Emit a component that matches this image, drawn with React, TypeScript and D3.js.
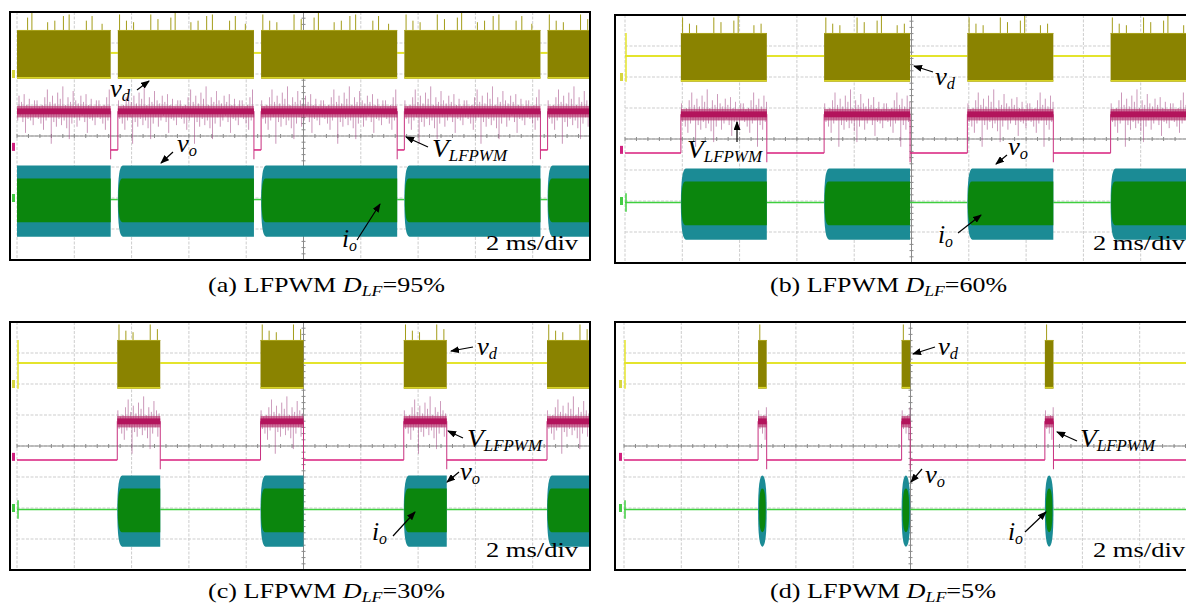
import React from "react";
import * as d3 from "d3";

// 2 ms/div, 10 horizontal divisions; 8 vertical divisions
const panelIds = ["a", "b", "c", "d"];
const dutyLabels = ["95%", "60%", "30%", "5%"];
const onTimeMs = [4.75, 3.0, 1.5, 0.3];
const burstStartMs = [
  [-1.48, 3.52, 8.52, 13.52, 18.52],
  [1.95, 6.95, 11.95, 16.95],
  [3.5, 8.5, 13.5, 18.5],
  [4.68, 9.69, 14.69],
];

// trace levels, in divisions from screen centre
const vdBand = [1.85, 3.42];
const vdOff = 2.68;
const vLfOn = 0.8;
const vLfOff = -0.45;
const voBand = [-3.25, -0.95];
const ioBand = [-2.78, -1.37];
const ioCentre = -2.05;

// spikes on top of v_d while switching (ms from burst start, height in div)
const vdSpikeMs = [0.06, 0.3, 0.55, 1.15, 1.4, 1.85, 2.0, 2.55, 2.8, 3.1, 3.3, 3.9, 4.1, 4.45];
const vdSpikeDiv = [0.5, 0.3, 0.25, 0.5, 0.35, 0.4, 0.55, 0.25, 0.3, 0.45, 0.5, 0.3, 0.45, 0.2];

// ripple on V_LFPWM while on (div), one sample every 0.045 ms
const vLfRipple = [
  0.35, -0.25, 0.15, -0.4, 0.2, -0.6, 0.45, -0.3, 0.7, -0.2, 0.3, -1.05, 0.5, -0.35, 0.25, -0.5,
  0.6, -0.25, 0.4, -0.45, 0.8, -0.3, 0.2, -0.55, 0.45, -0.9, 0.3, -0.4, 0.65, -0.2, 0.35, -0.5,
  0.25, -0.3, 0.5, -0.15, 0.3, -0.35, 0.55, -0.7, 0.2, -0.25, 0.4, -0.3, 0.15, -0.45, 0.35, -0.2,
];

const SERIF = '"Liberation Serif", "Times New Roman", Times, Tinos, serif';
const BOX_W = 580;
const BOX_H = 248;
const SCREEN_W = 573;

const panelOrigin = [[10, 12], [615, 15], [10, 322], [615, 322]];
const screenOffset = [7, 10, 7, 9];
const captionPos = [[208, 292], [770, 292], [208, 598], [770, 598]];
const captionWidth = [237, 237, 237, 226];

// label, text position, arrow (tail -> head), in panel coordinates
const annotations = [
  [
    { m: "v", s: "d", x: 100, y: 85, a: [127, 78, 139, 69] },
    { m: "v", s: "o", x: 167, y: 140, a: [163, 140, 151, 151] },
    { m: "V", s: "LFPWM", x: 422, y: 145, a: [418, 135, 396, 125] },
    { m: "i", s: "o", x: 332, y: 235, a: [347, 228, 370, 192] },
  ],
  [
    { m: "V", s: "LFPWM", x: 72, y: 143, a: [122, 127, 122, 107] },
    { m: "v", s: "d", x: 320, y: 70, a: [318, 57, 299, 51] },
    { m: "v", s: "o", x: 393, y: 140, a: [392, 140, 381, 149] },
    { m: "i", s: "o", x: 323, y: 228, a: [343, 218, 366, 200] },
  ],
  [
    { m: "v", s: "d", x: 467, y: 33, a: [463, 25, 441, 29] },
    { m: "V", s: "LFPWM", x: 457, y: 125, a: [453, 116, 438, 109] },
    { m: "v", s: "o", x: 450, y: 158, a: [449, 150, 437, 160] },
    { m: "i", s: "o", x: 362, y: 218, a: [383, 214, 405, 190] },
  ],
  [
    { m: "v", s: "d", x: 323, y: 33, a: [320, 25, 298, 32] },
    { m: "V", s: "LFPWM", x: 465, y: 125, a: [462, 119, 442, 110] },
    { m: "v", s: "o", x: 310, y: 161, a: [307, 147, 296, 160] },
    { m: "i", s: "o", x: 393, y: 218, a: [410, 210, 431, 190] },
  ],
];
const labelWidth = { LFPWM: 75, d: 20, o: 20 };
const divLabelX = [476, 478, 476, 478];
const divLabelY = [238, 235, 235, 235];

function burstPath(x0, x1, top, bot, r, lens) {
  const mid = (top + bot) / 2;
  const p = d3.path();
  if (lens) {
    const xm = (x0 + x1) / 2;
    p.moveTo(x0, mid);
    p.quadraticCurveTo(x0, top, xm, top);
    p.quadraticCurveTo(x1, top, x1, mid);
    p.quadraticCurveTo(x1, bot, xm, bot);
    p.quadraticCurveTo(x0, bot, x0, mid);
  } else {
    p.moveTo(x1, top);
    p.lineTo(x0 + r, top);
    p.quadraticCurveTo(x0, top, x0, mid);
    p.quadraticCurveTo(x0, bot, x0 + r, bot);
    p.lineTo(x1, bot);
  }
  p.closePath();
  return p.toString();
}

const Panel = ({ k }) => {
  const [ox, oy] = panelOrigin[k];
  const sl = screenOffset[k];
  const x = d3.scaleLinear().domain([0, 20]).range([sl, sl + SCREEN_W]);
  const y = d3.scaleLinear().domain([-4, 4]).range([BOX_H, 0]);
  const on = onTimeMs[k];
  const bursts = burstStartMs[k].map((s) => [s, s + on]);
  const lens = on < 1;

  // off intervals between bursts
  const offs = [];
  let cur = 0;
  bursts.forEach(([b0, b1]) => {
    if (b0 > cur) offs.push([cur, Math.min(b0, 20)]);
    cur = Math.max(cur, b1);
  });
  if (cur < 20) offs.push([cur, 20]);
  const startsOff = offs.length && offs[0][0] === 0;

  const clipId = `scr-${panelIds[k]}`;
  const vTicks = d3.range(0, 10.01, 0.2);
  const hTicks = d3.range(-4, 4.01, 0.2);

  return (
    <g transform={`translate(${ox},${oy})`}>
      <defs>
        <clipPath id={clipId}>
          <rect x={sl} y={0} width={SCREEN_W} height={BOX_H} />
        </clipPath>
      </defs>
      {/* grid */}
      <g stroke="#cdcdcd" strokeWidth={1}>
        {d3.range(0, 11).map((i) => (
          <line key={"v" + i} x1={x(i * 2)} x2={x(i * 2)} y1={0} y2={BOX_H} strokeDasharray="3,1.5" />
        ))}
        {d3.range(-4, 5).map((j) => (
          <line key={"h" + j} x1={sl} x2={sl + SCREEN_W} y1={y(j)} y2={y(j)} strokeDasharray="3,1.5" />
        ))}
      </g>
      <g stroke="#8a8a8a" strokeWidth={1}>
        <line x1={sl} x2={sl + SCREEN_W} y1={y(0)} y2={y(0)} />
        <line x1={x(10)} x2={x(10)} y1={0} y2={BOX_H} />
        {vTicks.map((t) => (
          <line key={"tx" + t} x1={x(t * 2)} x2={x(t * 2)} y1={y(0) - 2} y2={y(0) + 2} />
        ))}
        {hTicks.map((t) => (
          <line key={"ty" + t} x1={x(10) - 2} x2={x(10) + 2} y1={y(t)} y2={y(t)} />
        ))}
      </g>
      {/* channel markers */}
      <rect x={sl - 5} y={y(2.0) - 4} width={3} height={8} fill="#d6d640" />
      <rect x={sl - 5} y={y(-0.35) - 4} width={3} height={8} fill="#d0207e" />
      <rect x={sl - 5} y={y(-2.0) - 4} width={3} height={8} fill="#44cc44" />

      <g clipPath={`url(#${clipId})`}>
        {/* v_d */}
        {offs.map(([o0, o1], i) => (
          <line key={"yo" + i} x1={x(o0)} x2={x(o1)} y1={y(vdOff)} y2={y(vdOff)} stroke="#e4e42c" strokeWidth={2} />
        ))}
        {startsOff && (
          <line x1={x(0) + 1} x2={x(0) + 1} y1={y(vdBand[0])} y2={y(vdBand[1])} stroke="#e4e42c" strokeWidth={1.5} />
        )}
        {bursts.map(([b0, b1], i) => (
          <g key={"yb" + i}>
            <rect x={x(b0)} y={y(vdBand[1])} width={x(b1) - x(b0)} height={y(vdBand[0]) - y(vdBand[1])} fill="#8a8300" />
            <line x1={x(b0)} x2={x(b1)} y1={y(vdBand[1]) + 0.5} y2={y(vdBand[1]) + 0.5} stroke="#a9a21c" strokeWidth={1} />
            <line x1={x(b0)} x2={x(b1)} y1={y(vdBand[0]) - 1} y2={y(vdBand[0]) - 1} stroke="#d9d424" strokeWidth={1.5} />
            {vdSpikeMs.map((t, j) =>
              t < on ? (
                <line key={j} x1={x(b0 + t)} x2={x(b0 + t)} y1={y(vdBand[1])} y2={y(vdBand[1] + vdSpikeDiv[j])} stroke="#a39c18" strokeWidth={1} />
              ) : null
            )}
          </g>
        ))}

        {/* V_LFPWM */}
        {offs.map(([o0, o1], i) => (
          <line key={"mo" + i} x1={x(o0)} x2={x(o1)} y1={y(vLfOff)} y2={y(vLfOff)} stroke="#d81e7c" strokeWidth={1.5} />
        ))}
        {bursts.map(([b0, b1], i) => (
          <g key={"mb" + i}>
            <line x1={x(b0)} x2={x(b0)} y1={y(vLfOff)} y2={y(vLfOn)} stroke="#c8307f" strokeWidth={1} />
            <line x1={x(b1)} x2={x(b1)} y1={y(vLfOff - 0.3)} y2={y(vLfOn)} stroke="#c8307f" strokeWidth={1} />
            {d3.range(0.02, on, 0.045).map((t, j) => (
              <line key={j} x1={x(b0 + t)} x2={x(b0 + t)} y1={y(vLfOn)} y2={y(vLfOn + vLfRipple[j % vLfRipple.length])} stroke="#a8508a" strokeWidth={0.8} opacity={0.75} />
            ))}
            <rect x={x(b0)} y={y(vLfOn + 0.17)} width={x(b1) - x(b0)} height={y(vLfOn - 0.2) - y(vLfOn + 0.17)} fill="#b8366f" opacity={0.7} />
            <rect x={x(b0)} y={y(vLfOn + 0.09)} width={x(b1) - x(b0)} height={y(vLfOn - 0.1) - y(vLfOn + 0.09)} fill="#b3145c" />
          </g>
        ))}

        {/* v_o and i_o */}
        {offs.map(([o0, o1], i) => (
          <line key={"go" + i} x1={x(o0)} x2={x(o1)} y1={y(ioCentre)} y2={y(ioCentre)} stroke="#3fcf3f" strokeWidth={1.5} />
        ))}
        {startsOff && (
          <line x1={x(0) + 1} x2={x(0) + 1} y1={y(ioCentre - 0.3)} y2={y(ioCentre + 0.3)} stroke="#3fcf3f" strokeWidth={1.5} />
        )}
        {bursts.map(([b0, b1], i) => (
          <g key={"gb" + i}>
            <path d={burstPath(x(b0), x(b1), y(voBand[1]), y(voBand[0]), 5, lens)} fill="#1b8b95" />
            <path d={burstPath(x(b0) + (lens ? 1 : 0.5), x(b1) - (lens ? 1 : 0), y(ioBand[1]), y(ioBand[0]), 4, lens)} fill="#0b860d" />
          </g>
        ))}
      </g>

      <rect x={0} y={0} width={BOX_W} height={BOX_H} fill="none" stroke="#000" strokeWidth={2} />

      {/* annotations */}
      {annotations[k].map((d, i) => (
        <g key={"an" + i}>
          <line x1={d.a[0]} y1={d.a[1]} x2={d.a[2]} y2={d.a[3]} stroke="#000" strokeWidth={1.2} markerEnd="url(#arrowHead)" />
          <text
            x={d.x}
            y={d.y}
            fontFamily={SERIF}
            fontSize={26}
            fontStyle="italic"
            fill="#000"
            textLength={d.m === "i" ? 15 : labelWidth[d.s]}
            lengthAdjust="spacingAndGlyphs"
          >
            {d.m}
            <tspan fontSize={16} dy={4}>{d.s}</tspan>
          </text>
        </g>
      ))}
      <text
        x={divLabelX[k]}
        y={divLabelY[k]}
        fontFamily={SERIF}
        fontSize={22}
        fill="#000"
        textLength={92}
        lengthAdjust="spacingAndGlyphs"
      >
        2 ms/div
      </text>
    </g>
  );
};

const Caption = ({ k }) => {
  const [cx, cy] = captionPos[k];
  return (
    <text x={cx} y={cy} fontFamily={SERIF} fontSize={22} fill="#000" textLength={captionWidth[k]} lengthAdjust="spacingAndGlyphs">
      {`(${panelIds[k]}) LFPWM `}
      <tspan fontStyle="italic">D</tspan>
      <tspan fontStyle="italic" fontSize={15} dy={4}>LF</tspan>
      <tspan dy={-4}>{`=${dutyLabels[k]}`}</tspan>
    </text>
  );
};

export default function App() {
  return (
    <svg width={1186} height={606} style={{ position: "absolute", left: 0, top: 0, background: "#fff" }}>
      <defs>
        <marker id="arrowHead" markerUnits="userSpaceOnUse" markerWidth={9} markerHeight={7} refX={8} refY={3.5} orient="auto">
          <path d="M0,0 L9,3.5 L0,7 z" fill="#000" />
        </marker>
      </defs>
      {panelIds.map((id, k) => (
        <g key={id}>
          <Panel k={k} />
          <Caption k={k} />
        </g>
      ))}
    </svg>
  );
}
